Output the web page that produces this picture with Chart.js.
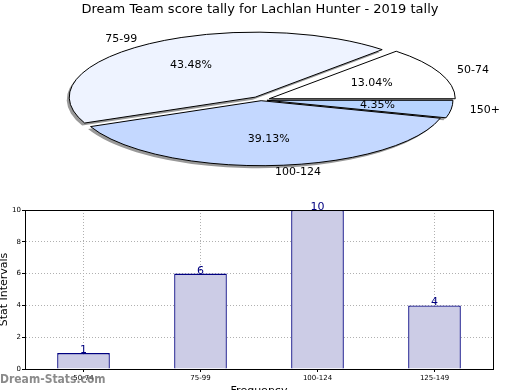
<!DOCTYPE html>
<html><head><meta charset="utf-8">
<script src="https://cdn.jsdelivr.net/npm/chart.js@4"></script>
<style>
html,body{margin:0;padding:0;background:#fff;}
#wrap{position:relative;width:520px;height:390px;overflow:hidden;}
#pie{position:absolute;left:0;top:0;}
#bar{position:absolute;left:0;top:195px;}
#wm{position:absolute;left:0;top:372px;font:bold 12px "DejaVu Sans Condensed","DejaVu Sans",sans-serif;color:rgba(110,110,110,0.8);white-space:nowrap;}
</style></head><body>
<div id="wrap">
<canvas id="pie" width="520" height="200"></canvas>
<canvas id="bar" width="520" height="195"></canvas>
<div id="wm">Dream-Stats.com</div>
</div>
<script>
const chartTitle = 'Dream Team score tally for Lachlan Hunter - 2019 tally';
const pieLabels = ['50-74', '75-99', '100-124', '150+'];
const pieValues = [3, 10, 9, 1];
const barLabels = ['50-74', '75-99', '100-124', '125-149'];
const barValues = [1, 6, 10, 4];
const yTicks = [0, 2, 4, 6, 8, 10];
const xTitle = 'Frequency';
const yTitle = 'Stat Intervals';

Chart.defaults.font.family = '"DejaVu Sans", sans-serif';
Chart.defaults.color = '#000';

// ---- styles ----
const RX = 186, RY = 65;
const SQ = RY / RX;
const pieColors = {'50-74': '#ffffff', '75-99': '#eef3ff', '100-124': '#c4d8ff', '150+': '#b8d4ff'};
const pieExplode = {'50-74': 9, '75-99': 10, '100-124': 2, '150+': 6};

// Chart.js draws clockwise; reference runs counter-clockwise from 3 o'clock
const order = pieLabels.map((l, i) => i).reverse();
const cjLabels = order.map(i => pieLabels[i]);
const cjValues = order.map(i => pieValues[i]);
const total = pieValues.reduce((a, b) => a + b, 0);

function squash(ctx, arc, dx, dy) {
  ctx.translate(dx, dy);
  ctx.translate(arc.x, arc.y); ctx.scale(1, SQ); ctx.translate(-arc.x, -arc.y);
}
function explodeVec(arc, lbl) {
  const m = (arc.startAngle + arc.endAngle) / 2; const e = pieExplode[lbl] || 0;
  return [Math.cos(m) * e, Math.sin(m) * e];
}
function arcPath(ctx, arc) {
  ctx.beginPath();
  ctx.moveTo(arc.x, arc.y);
  ctx.arc(arc.x, arc.y, arc.outerRadius, arc.startAngle, arc.endAngle);
  ctx.closePath();
}

const piePlugin = {
  id: 'ellipsePie',
  beforeDatasetsDraw(chart) {
    const ctx = chart.ctx; const meta = chart.getDatasetMeta(0);
    meta.data.forEach((arc, i) => {
      const [ex, ey] = explodeVec(arc, chart.data.labels[i]);
      ctx.save(); squash(ctx, arc, -2.5, 2.5); ctx.translate(ex, ey);
      arcPath(ctx, arc); ctx.fillStyle = '#999999'; ctx.fill(); ctx.restore();
    });
  },
  beforeDatasetDraw(chart, args) {
    const ctx = chart.ctx; const meta = args.meta;
    meta.data.forEach((arc, i) => {
      const [ex, ey] = explodeVec(arc, chart.data.labels[i]);
      ctx.save(); squash(ctx, arc, 0, 0); ctx.translate(ex, ey); arc.draw(ctx); ctx.restore();
      ctx.save(); squash(ctx, arc, 0, 0); ctx.translate(ex, ey); arcPath(ctx, arc); ctx.restore();
      ctx.save(); ctx.lineWidth = 1; ctx.strokeStyle = '#000'; ctx.stroke(); ctx.restore();
    });
    return false;
  },
  afterDatasetsDraw(chart) {
    const ctx = chart.ctx; const meta = chart.getDatasetMeta(0);
    ctx.save();
    ctx.font = '11px "DejaVu Sans", sans-serif'; ctx.fillStyle = '#000'; ctx.textBaseline = 'middle';
    meta.data.forEach((arc, i) => {
      const lbl = chart.data.labels[i]; const val = chart.data.datasets[0].data[i];
      const m = (arc.startAngle + arc.endAngle) / 2;
      const [ex, ey] = explodeVec(arc, lbl);
      const cx = arc.x + ex, cy = arc.y + ey * SQ;
      const c = Math.cos(m), s = Math.sin(m), R = arc.outerRadius;
      ctx.textAlign = 'center';
      ctx.fillText((val / total * 100).toFixed(2) + '%', cx + 0.6 * R * c, cy + 0.6 * R * s * SQ);
      ctx.textAlign = c >= 0 ? 'left' : 'right';
      ctx.fillText(lbl, cx + 1.1 * R * c, cy + 1.1 * R * s * SQ);
    });
    ctx.font = '13px "DejaVu Sans", sans-serif'; ctx.textAlign = 'center';
    ctx.fillText(chartTitle, chart.width / 2, 10);
    ctx.restore();
  }
};

new Chart(document.getElementById('pie'), {
  type: 'pie',
  data: {labels: cjLabels, datasets: [{
    data: cjValues,
    backgroundColor: cjLabels.map(l => pieColors[l]),
    borderWidth: 0, radius: RX, clip: false
  }]},
  options: {
    responsive: false, animation: false, events: [], rotation: 90,
    layout: {padding: {left: 2, right: 0, top: 0, bottom: 0}},
    plugins: {legend: {display: false}, tooltip: {enabled: false}, title: {display: false}}
  },
  plugins: [piePlugin]
});

const boxPlugin = {
  id: 'box',
  afterDraw(chart) {
    const {ctx, chartArea: a} = chart;
    ctx.save(); ctx.strokeStyle = '#000'; ctx.lineWidth = 1;
    ctx.strokeRect(Math.round(a.left) + 0.5, Math.round(a.top) + 0.5, Math.round(a.right - a.left), Math.round(a.bottom - a.top));
    ctx.restore();
  }
};
const valuePlugin = {
  id: 'values',
  afterDatasetsDraw(chart) {
    const ctx = chart.ctx; const meta = chart.getDatasetMeta(0);
    ctx.save(); ctx.font = '11px "DejaVu Sans", sans-serif'; ctx.fillStyle = '#000080';
    ctx.textAlign = 'center'; ctx.textBaseline = 'alphabetic';
    meta.data.forEach((bar, i) => ctx.fillText(String(chart.data.datasets[0].data[i]), bar.x, bar.y));
    ctx.restore();
  }
};

new Chart(document.getElementById('bar'), {
  type: 'bar',
  data: {labels: barLabels, datasets: [{
    data: barValues, backgroundColor: '#ccccE6', borderColor: '#000080', borderWidth: 1.3,
    barPercentage: 0.45, categoryPercentage: 1
  }]},
  options: {
    responsive: false, animation: false, events: [],
    layout: {padding: {top: 15, right: 27, left: 0, bottom: 0}},
    plugins: {legend: {display: false}, tooltip: {enabled: false}},
    scales: {
      x: {
        grid: {offset: false, color: '#b0b0b0', tickLength: 3, tickColor: '#000'},
        border: {color: '#000', width: 1, dash: [1, 2]},
        ticks: {font: {size: 7}, color: '#000', padding: 2, maxRotation: 0},
        title: {display: true, text: xTitle, font: {size: 11}, color: '#000', padding: {top: 0, bottom: -8}},
        afterFit(s) { s.height = 21; }
      },
      y: {
        min: 0, max: 10,
        afterBuildTicks(s) { s.ticks = yTicks.map(v => ({value: v})); },
        grid: {color: '#b0b0b0', tickLength: 3, tickColor: '#000'},
        border: {color: '#000', width: 1, dash: [1, 2]},
        ticks: {font: {size: 7}, color: '#000', padding: 1},
        title: {display: true, text: yTitle, font: {size: 11}, color: '#000', padding: {top: -2, bottom: 0}},
        afterFit(s) { s.width = 25; }
      }
    }
  },
  plugins: [boxPlugin, valuePlugin]
});
</script>
</body></html>
